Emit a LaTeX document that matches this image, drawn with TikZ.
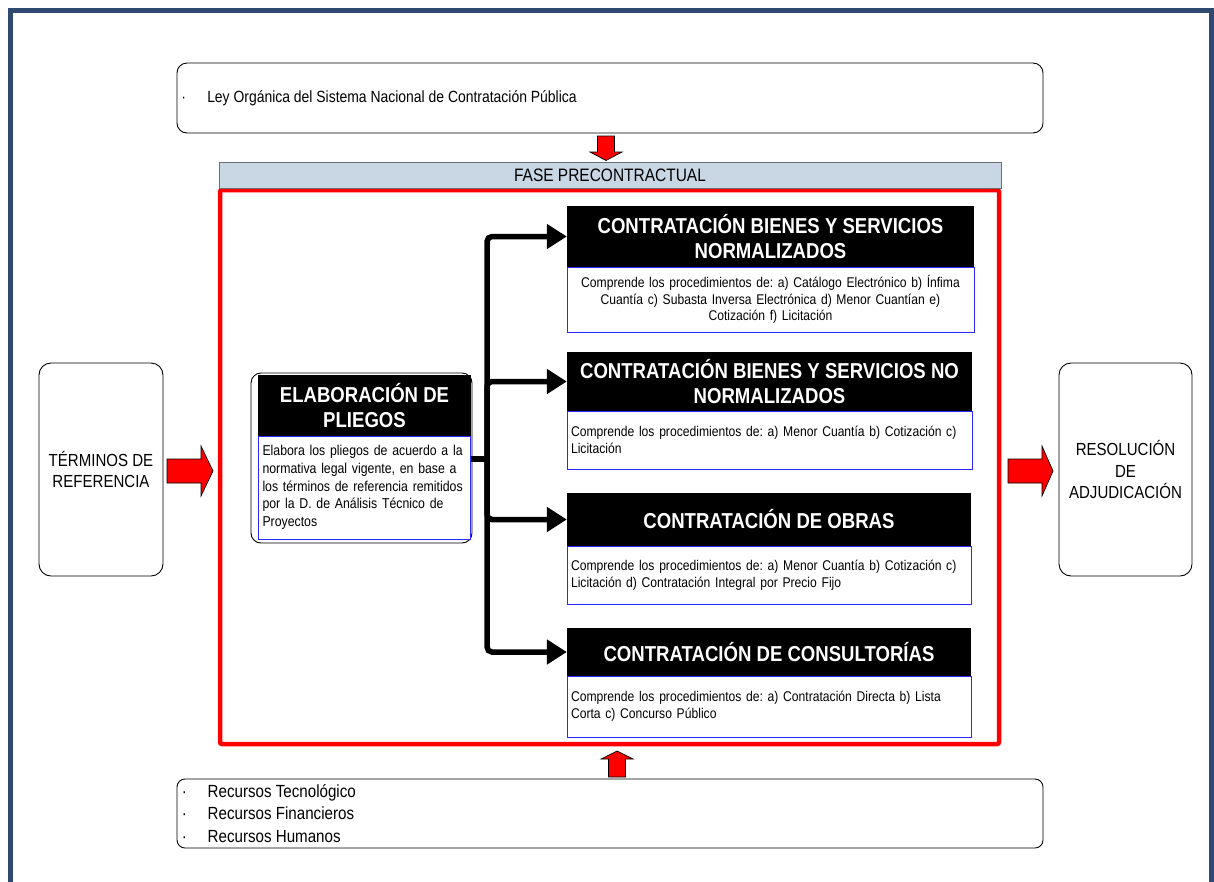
\documentclass[tikz,border=0pt]{standalone}
\usepackage{fontspec}
\setmainfont{Liberation Sans}[FakeStretch=0.86]
\usetikzlibrary{arrows.meta}

\definecolor{framecol}{RGB}{46,74,110}
\definecolor{barfill}{RGB}{201,214,228}
\definecolor{bargray}{RGB}{110,110,110}
\definecolor{bodyblue}{RGB}{40,40,255}

\newcommand{\fsbody}{\fontsize{14.1pt}{16.6pt}\selectfont}
\newcommand{\fsbodyb}{\fontsize{14.3pt}{17.7pt}\selectfont}
\newcommand{\fshead}{\fontsize{21.6pt}{25.5pt}\selectfont\bfseries}
\newcommand{\fsside}{\fontsize{17.5pt}{21.5pt}\selectfont}
\newcommand{\fsley}{\fontsize{16.2pt}{19pt}\selectfont}
\newcommand{\fsrec}{\fontsize{17.6pt}{22.5pt}\selectfont}
\newcommand{\fsbar}{\fontsize{18pt}{20pt}\selectfont}
% bullet followed by an indented item
\newcommand{\dotitem}[1]{\makebox[26pt][l]{·}#1}

\frenchspacing
\begin{document}
\begin{tikzpicture}[x=1pt,y=-1pt,
  roundbox/.style={draw=black, line width=0.9pt, rounded corners=10pt, fill=white, inner sep=0pt},
  headbox/.style={fill=black, text=white, font=\fshead, align=center, inner sep=0pt},
  bodybox/.style={draw=bodyblue, line width=1pt, fill=white, inner xsep=4pt, inner ysep=0pt},
  conn/.style={line width=5.5pt, black, rounded corners=5pt, -{Triangle[length=20pt,width=24pt]}},
  trunk/.style={line width=5.5pt, black},
  redarrow/.style={fill=red, draw=black, line width=0.7pt, line join=miter}]

\useasboundingbox (0,0) rectangle (1214,881);

% outer page frame (open at the bottom)
\draw[framecol, line width=5pt] (10.5,890) -- (10.5,10.5) -- (1211.5,10.5) -- (1211.5,890);

% legal framework box
\node[roundbox, minimum width=866pt, minimum height=70pt] (ley) at (610,98) {};
\node[font=\fsley, anchor=west, inner sep=0pt] (leytxt) at ([xshift=4.5pt]ley.west)
  {\dotitem{Ley Orgánica del Sistema Nacional de Contratación Pública}};

% precontractual phase frame and its title bar
\node[draw=red, line width=4.5pt, rounded corners=2pt, minimum width=779pt, minimum height=554pt, inner sep=0pt] (frame) at (609.5,467) {};
\node[draw=bargray, fill=barfill, line width=0.8pt, minimum width=782pt, minimum height=26pt,
  font=\fsbar, inner sep=0pt] (bar) at (610,175) {FASE PRECONTRACTUAL};

% input and output boxes
\node[roundbox, rounded corners=12pt, minimum width=124pt, minimum height=213pt, font=\fsside, align=center]
  (ter) at (101,469.5) {TÉRMINOS DE\\REFERENCIA};
\node[roundbox, rounded corners=12pt, minimum width=133pt, minimum height=213pt, font=\fsside, align=center]
  (res) at (1125.5,469.5) {RESOLUCIÓN\\DE\\ADJUDICACIÓN};

% resources box
\node[roundbox, rounded corners=8pt, minimum width=866pt, minimum height=69pt] (rec) at (610,813.5) {};
\node[font=\fsrec, align=left, anchor=west, inner sep=0pt] (rectxt) at ([xshift=5pt]rec.west)
  {\dotitem{Recursos Tecnológico}\\\dotitem{Recursos Financieros}\\\dotitem{Recursos Humanos}};

% drafting of tender documents
\node[roundbox, minimum width=221pt, minimum height=170pt] (elab) at (361.5,458) {};
\node[headbox, minimum width=213pt, minimum height=61pt] (elabhead) at (364.5,405.5) {ELABORACIÓN DE\\PLIEGOS};
\node[bodybox, inner xsep=4.5pt, minimum width=212pt, minimum height=103pt, text width=203pt, align=left, font=\fsbodyb]
  (elabbody) at (364,487.5)
  {Elabora los pliegos de acuerdo a la\\normativa legal vigente, en base a\\los términos de referencia remitidos\\por la D. de Análisis Técnico de\\Proyectos};

% procurement types
\node[headbox, minimum width=407pt, minimum height=61pt] (h1) at (770.5,236.5)
  {CONTRATACIÓN BIENES Y SERVICIOS\\NORMALIZADOS};
\node[bodybox, minimum width=407pt, minimum height=65pt, text width=399pt, align=center, font=\fsbody]
  (b1) at (770.5,299.5)
  {Comprende los procedimientos de: a) Catálogo Electrónico b) Ínfima\\Cuantía c) Subasta Inversa Electrónica d) Menor Cuantían e)\\Cotización f) Licitación};

\node[headbox, minimum width=405pt, minimum height=59pt] (h2) at (769.5,381.5)
  {CONTRATACIÓN BIENES Y SERVICIOS NO\\NORMALIZADOS};
\node[bodybox, minimum width=405pt, minimum height=58pt, text width=397pt, align=left, font=\fsbody]
  (b2) at (769.5,440)
  {Comprende los procedimientos de: a) Menor Cuantía b) Cotización c)\\Licitación};

\node[headbox, minimum width=404pt, minimum height=53pt] (h3) at (769,519.5)
  {CONTRATACIÓN DE OBRAS};
\node[bodybox, minimum width=404pt, minimum height=58pt, text width=396pt, align=left, font=\fsbody]
  (b3) at (769,575)
  {Comprende los procedimientos de: a) Menor Cuantía b) Cotización c)\\Licitación d) Contratación Integral por Precio Fijo};

\node[headbox, minimum width=404pt, minimum height=48pt] (h4) at (769,652)
  {CONTRATACIÓN DE CONSULTORÍAS};
\node[bodybox, minimum width=404pt, minimum height=61pt, text width=396pt, align=left, font=\fsbody]
  (b4) at (769,706.5)
  {Comprende los procedimientos de: a) Contratación Directa b) Lista\\Corta c) Concurso Público};

% branching connectors
\coordinate (j) at (487,459);
\draw[trunk] (elabbody.east |- j) -- (j);
\draw[conn] (j) |- (h1.west);
\draw[conn] (j) |- (h2.west);
\draw[conn] (j) |- (h3.west);
\draw[conn] (j) |- (h4.west);

% block arrows
\draw[redarrow] (597.5,136) -- (614.5,136) -- (614.5,152) -- (622,152) -- (606,160.5)
  -- (590,152) -- (597.5,152) -- cycle;
\draw[redarrow] (608.5,777) -- (625.5,777) -- (625.5,759) -- (633,759) -- (617,751)
  -- (601,759) -- (608.5,759) -- cycle;
\draw[redarrow] (167,459) -- (201,459) -- (201,446) -- (213,471) -- (201,496) -- (201,483)
  -- (167,483) -- cycle;
\draw[redarrow] (1008,459) -- (1042,459) -- (1042,446) -- (1053,471) -- (1042,496) -- (1042,483)
  -- (1008,483) -- cycle;

\end{tikzpicture}
\end{document}
